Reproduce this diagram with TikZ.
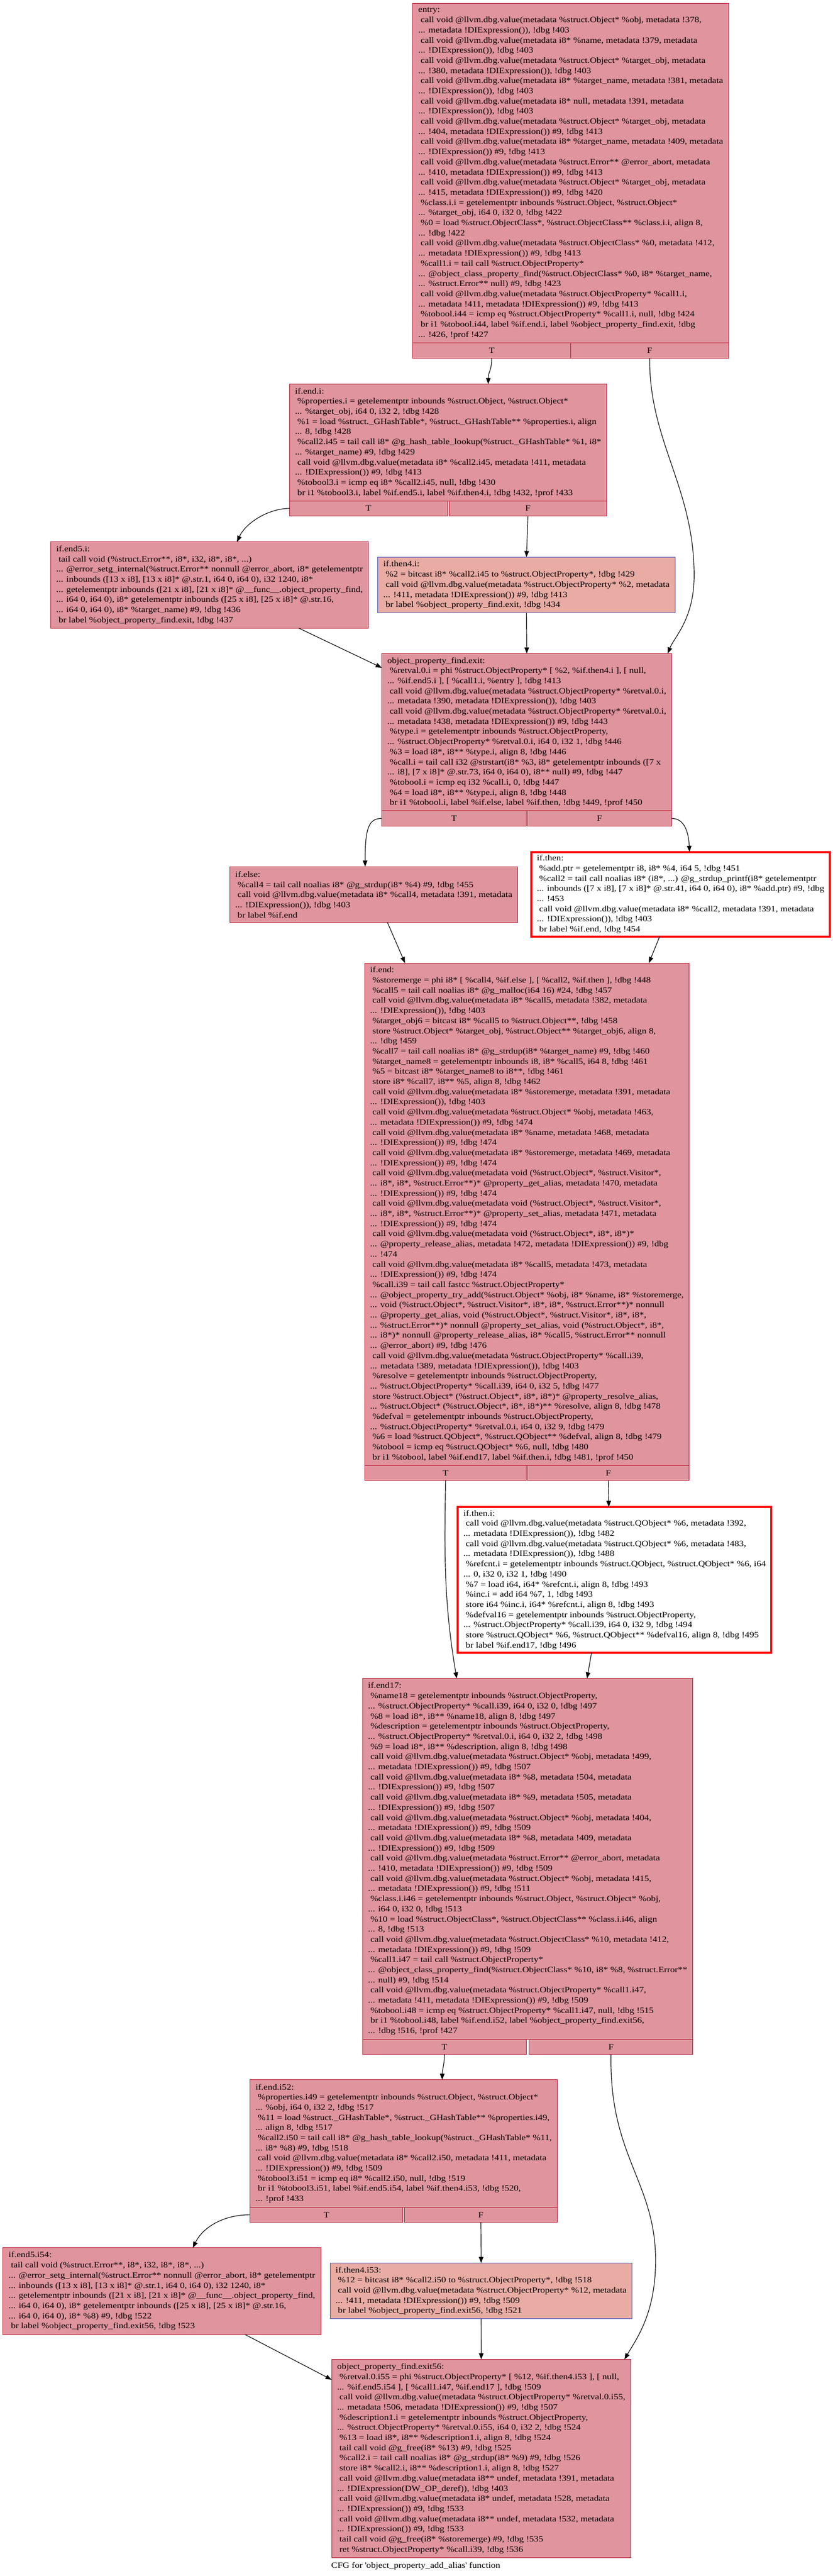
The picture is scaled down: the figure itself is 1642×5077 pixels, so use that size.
\documentclass[tikz,border=0pt]{standalone}
\usepackage{fontspec}
\setmainfont{Liberation Serif}[FakeStretch=1.15, Ligatures=CommonOff]
\usetikzlibrary{arrows.meta}
\definecolor{hotline}{HTML}{B70D28}
\definecolor{hotfill}{RGB}{223,148,158}
\definecolor{coolline}{HTML}{3D50C3}
\definecolor{warmfill}{RGB}{233,172,164}

\begin{document}
\begin{tikzpicture}[x=1pt, y=-1pt, >={Stealth[length=12pt, width=9pt, inset=0pt]}, line width=1.2pt,
    every node/.style={font=\fontsize{16}{20}\selectfont},
    blk/.style={draw=hotline, fill=hotfill, line width=1pt, align=left, anchor=north west, inner xsep=11pt, inner ysep=5pt, outer sep=0pt},
    redblk/.style={blk, draw=red, fill=white, line width=4pt},
    coolblk/.style={blk, draw=coolline, fill=warmfill},
    tf/.style={draw=hotline, fill=hotfill, line width=1pt, minimum height=30pt, inner sep=0pt, outer sep=0pt}]
    \useasboundingbox (0,0) rectangle (1642,5077);

    \node[blk, minimum width=623pt, minimum height=669pt] (0) at (814,7) {entry:\\
~call void @llvm.dbg.value(metadata \%struct.Object* \%obj, metadata !378,\\
... metadata !DIExpression()), !dbg !403\\
~call void @llvm.dbg.value(metadata i8* \%name, metadata !379, metadata\\
... !DIExpression()), !dbg !403\\
~call void @llvm.dbg.value(metadata \%struct.Object* \%target\_obj, metadata\\
... !380, metadata !DIExpression()), !dbg !403\\
~call void @llvm.dbg.value(metadata i8* \%target\_name, metadata !381, metadata\\
... !DIExpression()), !dbg !403\\
~call void @llvm.dbg.value(metadata i8* null, metadata !391, metadata\\
... !DIExpression()), !dbg !403\\
~call void @llvm.dbg.value(metadata \%struct.Object* \%target\_obj, metadata\\
... !404, metadata !DIExpression()) \#9, !dbg !413\\
~call void @llvm.dbg.value(metadata i8* \%target\_name, metadata !409, metadata\\
... !DIExpression()) \#9, !dbg !413\\
~call void @llvm.dbg.value(metadata \%struct.Error** @error\_abort, metadata\\
... !410, metadata !DIExpression()) \#9, !dbg !413\\
~call void @llvm.dbg.value(metadata \%struct.Object* \%target\_obj, metadata\\
... !415, metadata !DIExpression()) \#9, !dbg !420\\
~\%class.i.i = getelementptr inbounds \%struct.Object, \%struct.Object*\\
... \%target\_obj, i64 0, i32 0, !dbg !422\\
~\%0 = load \%struct.ObjectClass*, \%struct.ObjectClass** \%class.i.i, align 8,\\
... !dbg !422\\
~call void @llvm.dbg.value(metadata \%struct.ObjectClass* \%0, metadata !412,\\
... metadata !DIExpression()) \#9, !dbg !413\\
~\%call1.i = tail call \%struct.ObjectProperty*\\
... @object\_class\_property\_find(\%struct.ObjectClass* \%0, i8* \%target\_name,\\
... \%struct.Error** null) \#9, !dbg !423\\
~call void @llvm.dbg.value(metadata \%struct.ObjectProperty* \%call1.i,\\
... metadata !411, metadata !DIExpression()) \#9, !dbg !413\\
~\%tobool.i44 = icmp eq \%struct.ObjectProperty* \%call1.i, null, !dbg !424\\
~br i1 \%tobool.i44, label \%if.end.i, label \%object\_property\_find.exit, !dbg\\
... !426, !prof !427};
    \node[tf, minimum width=311.5pt, anchor=north west] (0T) at (0.south west) {T};
    \node[tf, minimum width=311.5pt, anchor=north east] (0F) at (0.south east) {F};

    \node[blk, minimum width=623pt, minimum height=230pt] (1) at (571,757) {if.end.i:\\
~\%properties.i = getelementptr inbounds \%struct.Object, \%struct.Object*\\
... \%target\_obj, i64 0, i32 2, !dbg !428\\
~\%1 = load \%struct.\_GHashTable*, \%struct.\_GHashTable** \%properties.i, align\\
... 8, !dbg !428\\
~\%call2.i45 = tail call i8* @g\_hash\_table\_lookup(\%struct.\_GHashTable* \%1, i8*\\
... \%target\_name) \#9, !dbg !429\\
~call void @llvm.dbg.value(metadata i8* \%call2.i45, metadata !411, metadata\\
... !DIExpression()) \#9, !dbg !413\\
~\%tobool3.i = icmp eq i8* \%call2.i45, null, !dbg !430\\
~br i1 \%tobool3.i, label \%if.end5.i, label \%if.then4.i, !dbg !432, !prof !433};
    \node[tf, minimum width=311.5pt, anchor=north west] (1T) at (1.south west) {T};
    \node[tf, minimum width=311.5pt, anchor=north east] (1F) at (1.south east) {F};

    \node[blk, minimum width=620pt, minimum height=170pt] (2) at (100,1068) {if.end5.i:\\
~tail call void (\%struct.Error**, i8*, i32, i8*, i8*, ...)\\
... @error\_setg\_internal(\%struct.Error** nonnull @error\_abort, i8* getelementptr\\
... inbounds ([13 x i8], [13 x i8]* @.str.1, i64 0, i64 0), i32 1240, i8*\\
... getelementptr inbounds ([21 x i8], [21 x i8]* @\_\_func\_\_.object\_property\_find,\\
... i64 0, i64 0), i8* getelementptr inbounds ([25 x i8], [25 x i8]* @.str.16,\\
... i64 0, i64 0), i8* \%target\_name) \#9, !dbg !436\\
~br label \%object\_property\_find.exit, !dbg !437};

    \node[coolblk, minimum width=586pt, minimum height=110pt] (3) at (745,1098) {if.then4.i:\\
~\%2 = bitcast i8* \%call2.i45 to \%struct.ObjectProperty*, !dbg !429\\
~call void @llvm.dbg.value(metadata \%struct.ObjectProperty* \%2, metadata\\
... !411, metadata !DIExpression()) \#9, !dbg !413\\
~br label \%object\_property\_find.exit, !dbg !434};

    \node[blk, minimum width=570pt, minimum height=310pt] (4) at (753,1288) {object\_property\_find.exit:\\
~\%retval.0.i = phi \%struct.ObjectProperty* [ \%2, \%if.then4.i ], [ null,\\
... \%if.end5.i ], [ \%call1.i, \%entry ], !dbg !413\\
~call void @llvm.dbg.value(metadata \%struct.ObjectProperty* \%retval.0.i,\\
... metadata !390, metadata !DIExpression()), !dbg !403\\
~call void @llvm.dbg.value(metadata \%struct.ObjectProperty* \%retval.0.i,\\
... metadata !438, metadata !DIExpression()) \#9, !dbg !443\\
~\%type.i = getelementptr inbounds \%struct.ObjectProperty,\\
... \%struct.ObjectProperty* \%retval.0.i, i64 0, i32 1, !dbg !446\\
~\%3 = load i8*, i8** \%type.i, align 8, !dbg !446\\
~\%call.i = tail call i32 @strstart(i8* \%3, i8* getelementptr inbounds ([7 x\\
... i8], [7 x i8]* @.str.73, i64 0, i64 0), i8** null) \#9, !dbg !447\\
~\%tobool.i = icmp eq i32 \%call.i, 0, !dbg !447\\
~\%4 = load i8*, i8** \%type.i, align 8, !dbg !448\\
~br i1 \%tobool.i, label \%if.else, label \%if.then, !dbg !449, !prof !450};
    \node[tf, minimum width=285pt, anchor=north west] (4T) at (4.south west) {T};
    \node[tf, minimum width=285pt, anchor=north east] (4F) at (4.south east) {F};

    \node[blk, minimum width=568pt, minimum height=110pt] (5) at (453,1708) {if.else:\\
~\%call4 = tail call noalias i8* @g\_strdup(i8* \%4) \#9, !dbg !455\\
~call void @llvm.dbg.value(metadata i8* \%call4, metadata !391, metadata\\
... !DIExpression()), !dbg !403\\
~br label \%if.end};

    \node[redblk, minimum width=585pt, minimum height=167pt] (6) at (1048,1679) {if.then:\\
~\%add.ptr = getelementptr i8, i8* \%4, i64 5, !dbg !451\\
~\%call2 = tail call noalias i8* (i8*, ...) @g\_strdup\_printf(i8* getelementptr\\
... inbounds ([7 x i8], [7 x i8]* @.str.41, i64 0, i64 0), i8* \%add.ptr) \#9, !dbg\\
... !453\\
~call void @llvm.dbg.value(metadata i8* \%call2, metadata !391, metadata\\
... !DIExpression()), !dbg !403\\
~br label \%if.end, !dbg !454};

    \node[blk, minimum width=639pt, minimum height=990pt] (7) at (719,1898) {if.end:\\
~\%storemerge = phi i8* [ \%call4, \%if.else ], [ \%call2, \%if.then ], !dbg !448\\
~\%call5 = tail call noalias i8* @g\_malloc(i64 16) \#24, !dbg !457\\
~call void @llvm.dbg.value(metadata i8* \%call5, metadata !382, metadata\\
... !DIExpression()), !dbg !403\\
~\%target\_obj6 = bitcast i8* \%call5 to \%struct.Object**, !dbg !458\\
~store \%struct.Object* \%target\_obj, \%struct.Object** \%target\_obj6, align 8,\\
... !dbg !459\\
~\%call7 = tail call noalias i8* @g\_strdup(i8* \%target\_name) \#9, !dbg !460\\
~\%target\_name8 = getelementptr inbounds i8, i8* \%call5, i64 8, !dbg !461\\
~\%5 = bitcast i8* \%target\_name8 to i8**, !dbg !461\\
~store i8* \%call7, i8** \%5, align 8, !dbg !462\\
~call void @llvm.dbg.value(metadata i8* \%storemerge, metadata !391, metadata\\
... !DIExpression()), !dbg !403\\
~call void @llvm.dbg.value(metadata \%struct.Object* \%obj, metadata !463,\\
... metadata !DIExpression()) \#9, !dbg !474\\
~call void @llvm.dbg.value(metadata i8* \%name, metadata !468, metadata\\
... !DIExpression()) \#9, !dbg !474\\
~call void @llvm.dbg.value(metadata i8* \%storemerge, metadata !469, metadata\\
... !DIExpression()) \#9, !dbg !474\\
~call void @llvm.dbg.value(metadata void (\%struct.Object*, \%struct.Visitor*,\\
... i8*, i8*, \%struct.Error**)* @property\_get\_alias, metadata !470, metadata\\
... !DIExpression()) \#9, !dbg !474\\
~call void @llvm.dbg.value(metadata void (\%struct.Object*, \%struct.Visitor*,\\
... i8*, i8*, \%struct.Error**)* @property\_set\_alias, metadata !471, metadata\\
... !DIExpression()) \#9, !dbg !474\\
~call void @llvm.dbg.value(metadata void (\%struct.Object*, i8*, i8*)*\\
... @property\_release\_alias, metadata !472, metadata !DIExpression()) \#9, !dbg\\
... !474\\
~call void @llvm.dbg.value(metadata i8* \%call5, metadata !473, metadata\\
... !DIExpression()) \#9, !dbg !474\\
~\%call.i39 = tail call fastcc \%struct.ObjectProperty*\\
... @object\_property\_try\_add(\%struct.Object* \%obj, i8* \%name, i8* \%storemerge,\\
... void (\%struct.Object*, \%struct.Visitor*, i8*, i8*, \%struct.Error**)* nonnull\\
... @property\_get\_alias, void (\%struct.Object*, \%struct.Visitor*, i8*, i8*,\\
... \%struct.Error**)* nonnull @property\_set\_alias, void (\%struct.Object*, i8*,\\
... i8*)* nonnull @property\_release\_alias, i8* \%call5, \%struct.Error** nonnull\\
... @error\_abort) \#9, !dbg !476\\
~call void @llvm.dbg.value(metadata \%struct.ObjectProperty* \%call.i39,\\
... metadata !389, metadata !DIExpression()), !dbg !403\\
~\%resolve = getelementptr inbounds \%struct.ObjectProperty,\\
... \%struct.ObjectProperty* \%call.i39, i64 0, i32 5, !dbg !477\\
~store \%struct.Object* (\%struct.Object*, i8*, i8*)* @property\_resolve\_alias,\\
... \%struct.Object* (\%struct.Object*, i8*, i8*)** \%resolve, align 8, !dbg !478\\
~\%defval = getelementptr inbounds \%struct.ObjectProperty,\\
... \%struct.ObjectProperty* \%retval.0.i, i64 0, i32 9, !dbg !479\\
~\%6 = load \%struct.QObject*, \%struct.QObject** \%defval, align 8, !dbg !479\\
~\%tobool = icmp eq \%struct.QObject* \%6, null, !dbg !480\\
~br i1 \%tobool, label \%if.end17, label \%if.then.i, !dbg !481, !prof !450};
    \node[tf, minimum width=319.5pt, anchor=north west] (7T) at (7.south west) {T};
    \node[tf, minimum width=319.5pt, anchor=north east] (7F) at (7.south east) {F};

    \node[redblk, minimum width=615pt, minimum height=287pt] (8) at (903,2970) {if.then.i:\\
~call void @llvm.dbg.value(metadata \%struct.QObject* \%6, metadata !392,\\
... metadata !DIExpression()), !dbg !482\\
~call void @llvm.dbg.value(metadata \%struct.QObject* \%6, metadata !483,\\
... metadata !DIExpression()), !dbg !488\\
~\%refcnt.i = getelementptr inbounds \%struct.QObject, \%struct.QObject* \%6, i64\\
... 0, i32 0, i32 1, !dbg !490\\
~\%7 = load i64, i64* \%refcnt.i, align 8, !dbg !493\\
~\%inc.i = add i64 \%7, 1, !dbg !493\\
~store i64 \%inc.i, i64* \%refcnt.i, align 8, !dbg !493\\
~\%defval16 = getelementptr inbounds \%struct.ObjectProperty,\\
... \%struct.ObjectProperty* \%call.i39, i64 0, i32 9, !dbg !494\\
~store \%struct.QObject* \%6, \%struct.QObject** \%defval16, align 8, !dbg !495\\
~br label \%if.end17, !dbg !496};

    \node[blk, minimum width=646pt, minimum height=711pt] (9) at (715,3308) {if.end17:\\
~\%name18 = getelementptr inbounds \%struct.ObjectProperty,\\
... \%struct.ObjectProperty* \%call.i39, i64 0, i32 0, !dbg !497\\
~\%8 = load i8*, i8** \%name18, align 8, !dbg !497\\
~\%description = getelementptr inbounds \%struct.ObjectProperty,\\
... \%struct.ObjectProperty* \%retval.0.i, i64 0, i32 2, !dbg !498\\
~\%9 = load i8*, i8** \%description, align 8, !dbg !498\\
~call void @llvm.dbg.value(metadata \%struct.Object* \%obj, metadata !499,\\
... metadata !DIExpression()) \#9, !dbg !507\\
~call void @llvm.dbg.value(metadata i8* \%8, metadata !504, metadata\\
... !DIExpression()) \#9, !dbg !507\\
~call void @llvm.dbg.value(metadata i8* \%9, metadata !505, metadata\\
... !DIExpression()) \#9, !dbg !507\\
~call void @llvm.dbg.value(metadata \%struct.Object* \%obj, metadata !404,\\
... metadata !DIExpression()) \#9, !dbg !509\\
~call void @llvm.dbg.value(metadata i8* \%8, metadata !409, metadata\\
... !DIExpression()) \#9, !dbg !509\\
~call void @llvm.dbg.value(metadata \%struct.Error** @error\_abort, metadata\\
... !410, metadata !DIExpression()) \#9, !dbg !509\\
~call void @llvm.dbg.value(metadata \%struct.Object* \%obj, metadata !415,\\
... metadata !DIExpression()) \#9, !dbg !511\\
~\%class.i.i46 = getelementptr inbounds \%struct.Object, \%struct.Object* \%obj,\\
... i64 0, i32 0, !dbg !513\\
~\%10 = load \%struct.ObjectClass*, \%struct.ObjectClass** \%class.i.i46, align\\
... 8, !dbg !513\\
~call void @llvm.dbg.value(metadata \%struct.ObjectClass* \%10, metadata !412,\\
... metadata !DIExpression()) \#9, !dbg !509\\
~\%call1.i47 = tail call \%struct.ObjectProperty*\\
... @object\_class\_property\_find(\%struct.ObjectClass* \%10, i8* \%8, \%struct.Error**\\
... null) \#9, !dbg !514\\
~call void @llvm.dbg.value(metadata \%struct.ObjectProperty* \%call1.i47,\\
... metadata !411, metadata !DIExpression()) \#9, !dbg !509\\
~\%tobool.i48 = icmp eq \%struct.ObjectProperty* \%call1.i47, null, !dbg !515\\
~br i1 \%tobool.i48, label \%if.end.i52, label \%object\_property\_find.exit56,\\
... !dbg !516, !prof !427};
    \node[tf, minimum width=323pt, anchor=north west] (9T) at (9.south west) {T};
    \node[tf, minimum width=323pt, anchor=north east] (9F) at (9.south east) {F};

    \node[blk, minimum width=604pt, minimum height=251pt] (10) at (493,4099) {if.end.i52:\\
~\%properties.i49 = getelementptr inbounds \%struct.Object, \%struct.Object*\\
... \%obj, i64 0, i32 2, !dbg !517\\
~\%11 = load \%struct.\_GHashTable*, \%struct.\_GHashTable** \%properties.i49,\\
... align 8, !dbg !517\\
~\%call2.i50 = tail call i8* @g\_hash\_table\_lookup(\%struct.\_GHashTable* \%11,\\
... i8* \%8) \#9, !dbg !518\\
~call void @llvm.dbg.value(metadata i8* \%call2.i50, metadata !411, metadata\\
... !DIExpression()) \#9, !dbg !509\\
~\%tobool3.i51 = icmp eq i8* \%call2.i50, null, !dbg !519\\
~br i1 \%tobool3.i51, label \%if.end5.i54, label \%if.then4.i53, !dbg !520,\\
... !prof !433};
    \node[tf, minimum width=302pt, anchor=north west] (10T) at (10.south west) {T};
    \node[tf, minimum width=302pt, anchor=north east] (10F) at (10.south east) {F};

    \node[blk, minimum width=620pt, minimum height=171pt] (11) at (6,4430) {if.end5.i54:\\
~tail call void (\%struct.Error**, i8*, i32, i8*, i8*, ...)\\
... @error\_setg\_internal(\%struct.Error** nonnull @error\_abort, i8* getelementptr\\
... inbounds ([13 x i8], [13 x i8]* @.str.1, i64 0, i64 0), i32 1240, i8*\\
... getelementptr inbounds ([21 x i8], [21 x i8]* @\_\_func\_\_.object\_property\_find,\\
... i64 0, i64 0), i8* getelementptr inbounds ([25 x i8], [25 x i8]* @.str.16,\\
... i64 0, i64 0), i8* \%8) \#9, !dbg !522\\
~br label \%object\_property\_find.exit56, !dbg !523};

    \node[coolblk, minimum width=593pt, minimum height=110pt] (12) at (651,4460) {if.then4.i53:\\
~\%12 = bitcast i8* \%call2.i50 to \%struct.ObjectProperty*, !dbg !518\\
~call void @llvm.dbg.value(metadata \%struct.ObjectProperty* \%12, metadata\\
... !411, metadata !DIExpression()) \#9, !dbg !509\\
~br label \%object\_property\_find.exit56, !dbg !521};

    \node[blk, minimum width=587pt, minimum height=391pt] (13) at (654,4650) {object\_property\_find.exit56:\\
~\%retval.0.i55 = phi \%struct.ObjectProperty* [ \%12, \%if.then4.i53 ], [ null,\\
... \%if.end5.i54 ], [ \%call1.i47, \%if.end17 ], !dbg !509\\
~call void @llvm.dbg.value(metadata \%struct.ObjectProperty* \%retval.0.i55,\\
... metadata !506, metadata !DIExpression()) \#9, !dbg !507\\
~\%description1.i = getelementptr inbounds \%struct.ObjectProperty,\\
... \%struct.ObjectProperty* \%retval.0.i55, i64 0, i32 2, !dbg !524\\
~\%13 = load i8*, i8** \%description1.i, align 8, !dbg !524\\
~tail call void @g\_free(i8* \%13) \#9, !dbg !525\\
~\%call2.i = tail call noalias i8* @g\_strdup(i8* \%9) \#9, !dbg !526\\
~store i8* \%call2.i, i8** \%description1.i, align 8, !dbg !527\\
~call void @llvm.dbg.value(metadata i8** undef, metadata !391, metadata\\
... !DIExpression(DW\_OP\_deref)), !dbg !403\\
~call void @llvm.dbg.value(metadata i8* undef, metadata !528, metadata\\
... !DIExpression()) \#9, !dbg !533\\
~call void @llvm.dbg.value(metadata i8** undef, metadata !532, metadata\\
... !DIExpression()) \#9, !dbg !533\\
~tail call void @g\_free(i8* \%storemerge) \#9, !dbg !535\\
~ret \%struct.ObjectProperty* \%call.i39, !dbg !536};

    \node (14) at (820,5057) {CFG for \textquotesingle object\_property\_add\_alias\textquotesingle{} function};

    \draw[->] (0T.south) .. controls +(0,25) and +(0,-25) .. ([xshift=79pt]1.north);
    \draw[->] (0F.south) .. controls (1280,870) and (1369,960) .. (1369,1134) .. controls (1369,1220) and (1330,1255) .. ([xshift=278pt]4.north);
    \draw[->] (1T.west) .. controls (530,1002) and (485,1030) .. ([xshift=54pt]2.north);
    \draw[->] (1F.south) -- (3.north);
    \draw[->] ([xshift=176pt]2.south) -- ([yshift=-28pt]4.north west);
    \draw[->] (3.south) -- (4.north);
    \draw[->] (4T.west) .. controls (728,1613) and (720,1630) .. ([xshift=-17pt]5.north);
    \draw[->] (4F.east) .. controls (1350,1613) and (1358,1640) .. ([xshift=17.5pt]6.north);
    \draw[->] ([xshift=27pt]5.south) -- ([xshift=-240.5pt]7.north);
    \draw[->] ([xshift=-41.5pt]6.south) -- ([xshift=240.5pt]7.north);
    \draw[->] (7T.south) .. controls (877,3050) and (874,3150) .. ([xshift=-140pt]9.north);
    \draw[->] (7F.south) -- ([xshift=-11.5pt]8.north);
    \draw[->] ([xshift=-45.5pt]8.south) -- ([xshift=117pt]9.north);
    \draw[->] (9T.south) .. controls +(0,20) and +(0,-20) .. ([xshift=76pt]10.north);
    \draw[->] (9F.south) .. controls (1201,4250) and (1293,4300) .. (1293,4455) .. controls (1293,4560) and (1255,4610) .. ([xshift=282.5pt]13.north);
    \draw[->] (10T.west) .. controls (440,4365) and (400,4390) .. ([xshift=61pt]11.north);
    \draw[->] (10F.south) -- (12.north);
    \draw[->] ([xshift=164pt]11.south) -- ([yshift=-40pt]13.north west);
    \draw[->] (12.south) -- (13.north);
\end{tikzpicture}
\end{document}
